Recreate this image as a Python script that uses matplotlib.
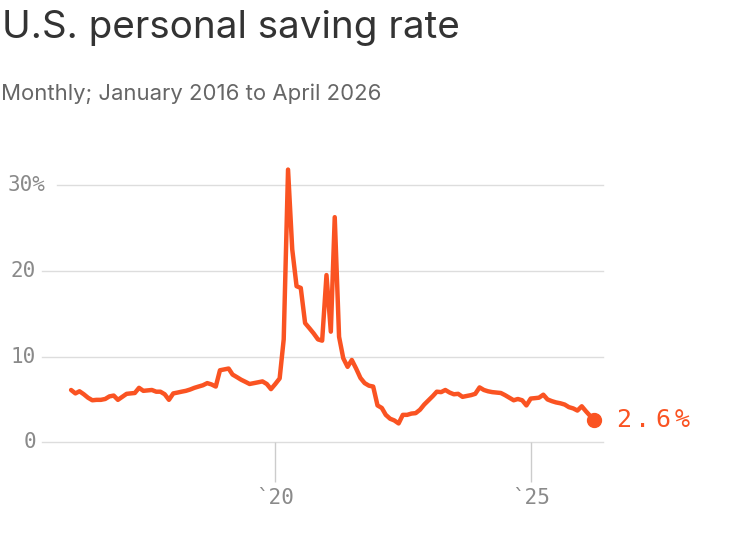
import matplotlib
matplotlib.use("Agg")
import matplotlib.pyplot as plt
import pandas as pd

# monthly personal saving rate, Jan 2016 - Apr 2026 (percent)
months = pd.date_range("2016-01-01", "2026-04-01", freq="MS")
saving_rate = [
    6.1, 5.7, 5.95, 5.6, 5.2, 4.9, 4.95, 4.95, 5.05, 5.35, 5.45, 4.95,   # 2016
    5.3, 5.65, 5.7, 5.75, 6.35, 6.0, 6.05, 6.1, 5.9, 5.9, 5.6, 4.95,     # 2017
    5.7, 5.8, 5.9, 6.0, 6.15, 6.35, 6.5, 6.65, 6.9, 6.75, 6.5, 8.4,      # 2018
    8.5, 8.6, 7.9, 7.6, 7.3, 7.05, 6.8, 6.9, 7.0, 7.1, 6.8, 6.2,         # 2019
    6.8, 7.45, 12.0, 31.8, 22.5, 18.2, 18.0, 13.9, 13.3, 12.7, 12.0, 11.85,  # 2020
    19.5, 12.9, 26.25, 12.3, 9.8, 8.8, 9.6, 8.6, 7.5, 6.9, 6.6, 6.5,     # 2021
    4.3, 4.0, 3.2, 2.75, 2.55, 2.2, 3.2, 3.2, 3.35, 3.4, 3.8, 4.4,       # 2022
    4.9, 5.4, 5.9, 5.85, 6.1, 5.8, 5.6, 5.65, 5.3, 5.4, 5.5, 5.65,       # 2023
    6.4, 6.1, 5.95, 5.85, 5.8, 5.75, 5.5, 5.2, 4.9, 5.05, 4.9, 4.3,      # 2024
    5.1, 5.15, 5.2, 5.55, 5.0, 4.8, 4.65, 4.55, 4.4, 4.1, 3.95, 3.7,     # 2025
    4.2, 3.6, 3.1, 2.6,                                                  # 2026
]

ytick_vals = [0, 10, 20, 30]
ytick_labels = ["0", "10", "20", "30%"]
xtick_dates = ["2020-01-01", "2025-01-01"]
xtick_labels = ["`20", "`25"]

ORANGE = "#FA5322"
GRID = "#dddddd"
LABEL = "#8a8a8a"
MONO = "DejaVu Sans Mono"

W, H = 750, 550
fig = plt.figure(figsize=(W / 100, H / 100), dpi=100)
ax = fig.add_axes([42 / W, 1 - 442.3 / H, 561 / W, 291.6 / H])

# gridlines + y labels drawn by hand (axios style)
for v, lab in zip(ytick_vals, ytick_labels):
    pct = lab.endswith("%")
    ax.axhline(v, xmin=15 / 561 if pct else 0, xmax=1, color=GRID, lw=1,
               zorder=0, clip_on=False)
    ax.text(-34 / 561 if pct else -6 / 561, v, lab,
            transform=ax.get_yaxis_transform(),
            ha="left" if pct else "right", va="center",
            fontsize=15, color=LABEL, family=MONO)

ax.plot(months, saving_rate, color=ORANGE, lw=3.2,
        solid_joinstyle="round", solid_capstyle="round", zorder=3)
ax.plot(months[-1], saving_rate[-1], "o", ms=10, color=ORANGE, zorder=4)

# end label, spaced out letter by letter
end_label = f"{saving_rate[-1]}%"
for i, ch in enumerate(end_label):
    ax.annotate(ch, xy=(months[-1], saving_rate[-1]),
                xytext=(21 + i * 14, 0), textcoords="offset points",
                ha="center", va="center", fontsize=18, color=ORANGE,
                family=MONO, annotation_clip=False)

ax.set_xlim(pd.Timestamp("2015-06-07"), pd.Timestamp("2026-06-02"))
ax.set_ylim(0, 34)
ax.set_yticks([])
ax.set_xticks(pd.to_datetime(xtick_dates))
ax.set_xticklabels(xtick_labels, family=MONO)
ax.tick_params(axis="x", length=29, width=1, color="#cccccc", pad=4,
               labelsize=15, labelcolor=LABEL)
for s in ax.spines.values():
    s.set_visible(False)

fig.text(2 / W, 1 - 38 / H, "U.S. personal saving rate", fontsize=27.8,
         color="#333333", family="Inter", va="baseline")
fig.text(1 / W, 1 - 99.5 / H, "Monthly; January 2016 to April 2026",
         fontsize=15.9, color="#666666", family="Inter", va="baseline")

fig.savefig("out.png", dpi=100)
